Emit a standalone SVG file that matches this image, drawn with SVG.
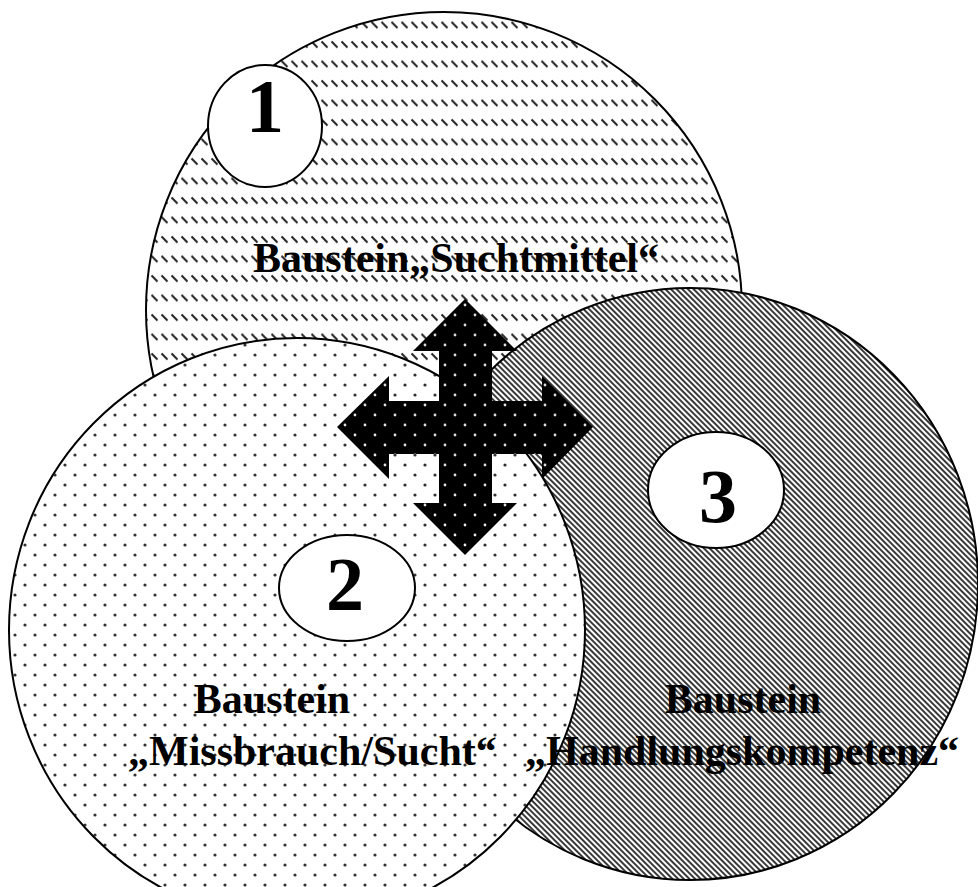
<svg xmlns="http://www.w3.org/2000/svg" width="978" height="887" viewBox="0 0 978 887">
  <style>
    .ring { stroke: #000; stroke-width: 2; }
    .badge { fill: #fff; stroke: #000; stroke-width: 2; }
    .num { font-family: "Liberation Serif", "Times New Roman", serif; font-weight: bold; font-size: 76px; fill: #000; text-anchor: middle; }
    .lbl { font-family: "Liberation Serif", "Times New Roman", serif; font-weight: bold; font-size: 42px; fill: #000; }
  </style>
  <defs>
    <!-- rows of short down-right dashes -->
    <pattern id="dashRows" patternUnits="userSpaceOnUse" width="10" height="19.5">
      <rect width="10" height="19.5" fill="#fff"/>
      <line x1="1.5" y1="2.5" x2="7.5" y2="8.5" stroke="#222" stroke-width="2"/>
    </pattern>
    <!-- staggered grey dots -->
    <pattern id="dots" patternUnits="userSpaceOnUse" width="20" height="20">
      <rect width="20" height="20" fill="#fff"/>
      <circle cx="5" cy="5" r="1.6" fill="#333"/>
      <circle cx="15" cy="15" r="1.6" fill="#333"/>
    </pattern>
    <!-- dense diagonal lines -->
    <pattern id="diag" patternUnits="userSpaceOnUse" width="4" height="4" patternTransform="rotate(45)">
      <rect width="4" height="4" fill="#fff"/>
      <line x1="0" y1="2" x2="4" y2="2" stroke="#222" stroke-width="1.8"/>
    </pattern>
    <!-- black text striped by the diagonal lines -->
    <pattern id="diagText" patternUnits="userSpaceOnUse" width="4" height="4" patternTransform="rotate(45)">
      <rect width="4" height="4" fill="#000"/>
      <line x1="0" y1="2" x2="4" y2="2" stroke="#888" stroke-width="1"/>
    </pattern>
    <!-- black ground with white dots -->
    <pattern id="darkDots" patternUnits="userSpaceOnUse" width="20" height="20">
      <rect width="20" height="20" fill="#000"/>
      <circle cx="5" cy="5" r="1.4" fill="#ddd"/>
      <circle cx="15" cy="15" r="1.4" fill="#ddd"/>
    </pattern>
  </defs>

  <!-- Baustein 1: Suchtmittel -->
  <g id="baustein-suchtmittel">
    <ellipse class="ring" cx="444" cy="310" rx="298" ry="298" fill="url(#dashRows)"/>
    <text class="lbl" x="253" y="272">Baustein„Suchtmittel“</text>
  </g>

  <!-- Baustein 3: Handlungskompetenz -->
  <g id="baustein-handlungskompetenz">
    <ellipse class="ring" cx="690" cy="584" rx="288" ry="296" fill="url(#diag)"/>
  </g>

  <!-- Baustein 2: Missbrauch/Sucht -->
  <g id="baustein-missbrauch">
    <ellipse class="ring" cx="297" cy="630" rx="288" ry="292" fill="url(#dots)"/>
    <text class="lbl" x="272" y="713" text-anchor="middle">Baustein</text>
    <text class="lbl" x="128" y="765">„Missbrauch/Sucht“</text>
  </g>

  <g id="label-handlungskompetenz">
    <text class="lbl" x="743" y="713" text-anchor="middle" fill="url(#diagText)">Baustein</text>
    <text class="lbl" x="525" y="765" fill="url(#diagText)">„Handlungskompetenz“</text>
  </g>

  <!-- number badges -->
  <g id="badge-1">
    <ellipse class="badge" cx="265" cy="126" rx="57" ry="61"/>
    <text class="num" x="265" y="132">1</text>
  </g>
  <g id="badge-2">
    <ellipse class="badge" cx="347" cy="588" rx="68" ry="53"/>
    <text class="num" x="345" y="610">2</text>
  </g>
  <g id="badge-3">
    <ellipse class="badge" cx="716" cy="490" rx="68" ry="58"/>
    <text class="num" x="718" y="522">3</text>
  </g>

  <!-- four-way arrow at the centre -->
  <g id="connectors">
    <g id="cross">
      <polygon fill="url(#darkDots)" points="465,299 517,351 492,351 492,401 542,401 542,376 593,427 542,479 542,454 492,454 492,503 517,503 465,555 413,503 439,503 439,454 389,454 389,479 337,427 389,376 389,401 439,401 439,351 413,351"/>
    </g>
  </g>
</svg>
